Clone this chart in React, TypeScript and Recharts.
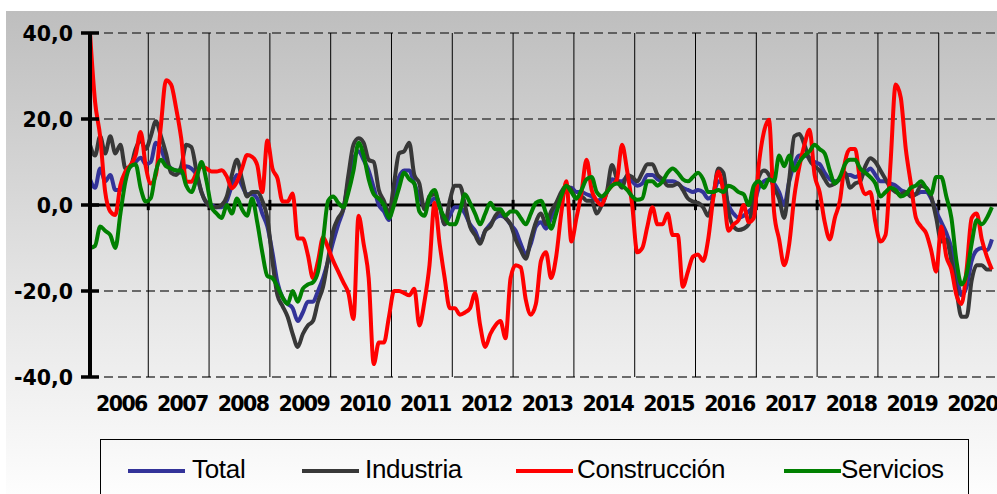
import React from "react";
import {
  LineChart,
  Line,
  XAxis,
  YAxis,
  CartesianGrid,
  ReferenceLine,
} from "recharts";

// monthly series, Jan 2006 .. Nov 2020
const START_YEAR = 2006;

const years = [
  2006, 2007, 2008, 2009, 2010, 2011, 2012, 2013, 2014, 2015, 2016, 2017,
  2018, 2019, 2020,
];

const yTicks = [-40, -20, 0, 20, 40];

const total = [
  6, 4, 8.5, 5.5, 7, 3.5, 3.5, 7, 9, 10, 11, 9.5,
  10, 14.5, 13, 10, 8.5, 8, 7.5, 9, 8.5, 7, 3, 0.5,
  0, -0.5, -0.5, 1, 4.5, 7, 4.5, 2.5, 2.5, 1.5, -2, -5,
  -11, -18, -21.5, -23, -24, -27, -25, -22.5, -22.5, -20, -17, -13,
  -8.5, -4.5, -1, 5.5, 10.5, 12.5, 10.5, 8, 4, 0, -1.5, -3.5,
  2.5, 6.5, 8, 8, 5, 2, -0.5, 0.5, 1.5, 0, -4.5, -2.5,
  -0.5, -0.5, -2, -4.5, -6, -8.5, -6, -4.5, -3, -2.5, -3, -4.5,
  -6, -9, -11.5, -9, -5, -4, -5.5, -3, 0, 2.5, 4, 4,
  3, 3, 2.5, 2, 1, 1.5, 3, 6, 5.5, 5.5, 6.5, 5.5,
  4.5, 5, 7, 7, 6, 5.5, 5.5, 5.5, 5, 4, 3.5, 3,
  3.5, 3, 1.5, 2.5, 5.5, 4.5, 0, -2, -3, -2.5, -1.5, 0,
  4, 5.5, 6, 5, 3, 0, 5.5, 9.5, 11.5, 11.5, 11, 10,
  9.5, 7.5, 6, 5.5, 6, 7, 7, 6.5, 7, 7.5, 8.5, 7,
  5.5, 5.5, 5, 4.5, 3.5, 3, 2.5, 2.5, 3, 3, 1.5, -1.5,
  -4, -6.5, -10, -16, -21, -19, -13, -10.5, -10, -10.5, -8,
];

const industria = [
  14, 11.5, 16, 12, 16, 12, 14, 8.5, 9, 13, 15, 13,
  16, 19.5, 16, 12, 7.5, 7, 9, 14, 13.5, 8, 3, 0.5,
  -0.5, -0.5, 0, 2, 7, 10.5, 6, 2, 3, 3, 1, -3,
  -13, -21, -23.5, -26, -30, -33, -30, -28, -27, -22.5, -19, -12.5,
  -6, -3, -1, 7, 14, 15.5, 14.5, 10.5, 10, 3.5, 1, -2,
  5, 12, 12.5, 14.5, 7, 5, -1, 2, 2.5, 0, -4.5, 1,
  4.5, 4.5, 0, -5, -7, -9, -6, -5, -2.5, -1.5, -3, -4.5,
  -8, -10.5, -12.5, -8, -4, -2, -4.5, -1.5, 0.5, 3, 4.5, 3.5,
  1.5, 2, 1, 1, -2, 0, 3, 9.3, 6, 4, 7, 6.5,
  5.5, 7.5, 9.5, 9.5, 7, 6, 4.5, 4.5, 5, 3.5, 1.5, 0.8,
  0.5, -0.5, -2.5, 2, 8.5, 7.5, -1.5, -5, -5.8, -5.5, -4.5, 1.5,
  6.5, 8, 7, 4, 1.5, -3, 6, 16, 16.5, 14, 10.5, 9,
  8, 6, 4.5, 5, 6, 7.5, 4, 5, 5.5, 9, 10.9, 10,
  8, 6, 4, 3, 2.5, 3, 2, 2.5, 4.5, 4, 2, -3,
  -8.5, -8, -13, -20, -26, -26, -17.5, -14, -14, -15, -15,
];

const construccion = [
  40, 24, 16, 3, -1.5, -2.3, 4.6, 7.8, 9.3, 11.6, 17, 9,
  5, 7, 18.6, 29, 28, 22.5, 15.5, 5.4, 5.4, 7.4, 8.9, 8.5,
  7.8, 7.8, 8.1, 6.6, 3.9, 5.4, 8.5, 11.6, 11.2, 9.3, 3, 15,
  8.5, 6.2, 0.8, 0.8, 2.7, -7.8, -7.8, -11.6, -17, -13, -7.5, -10,
  -13, -15.5, -18, -20.5, -26.5, -2.5, -9, -17, -37, -32, -32, -26,
  -20, -20, -20.5, -21, -19.5, -28, -22.5, -14, 0.5, -9, -17, -24,
  -24, -25.5, -25, -24, -20.5, -28, -33, -30, -28, -27, -31, -17,
  -14, -14.5, -22, -25.5, -23, -13, -11, -17, -12, -2, 5.5, -8.5,
  -3, 3, 10.5, 3.5, 1, 0, 3, 4.5, 6, 14, 8, 0,
  -11, -10, -5, -0.5, -4.5, -4.5, -2, -7, -7, -19, -15.5, -12,
  -11.5, -13, -8, 1.5, 7.8, 3, -6, -4.5, -3.5, 0, -4, -3,
  9.5, 17, 19.8, -1.5, -8, -14, -9, 2, 9, 14, 17.5, 7,
  3, -4, -8, -3, 1, 10, 13, 13, 5.5, 2.5, 3, -4,
  -8.5, -7, 10, 28, 25, 13, 5, -3, -5, -6.5, -10.5, -15.5,
  -5, -12, -15, -21, -23, -15, -3, -2, -8, -12, -15,
];

const servicios = [
  -10, -9.5, -5, -6, -7, -10, -2, 5.5, 9, 9.5, 3.9, 0.8,
  1.6, 7.8, 10.5, 9, 8.5, 8, 8, 4.5, 3, 6, 10, 5.5,
  -0.5, -2, -3, 0, -2, 1.5, -1, -2.5, 1.5, -4, -11, -16.5,
  -17, -19, -21.5, -23, -20, -22.5, -19.5, -18.5, -18, -15.5, -8, 1,
  2, 0.5, -0.5, 3, 8, 14.5, 11.5, 6, 2.5, 1.5, 0, -3,
  0, 4, 7.5, 6, 5, -1.5, -2.5, 2, 3.5, -0.5, -3, -4.5,
  -4.5, -1.5, 2.5, 0.5, -2, -4.5, -2, 0.5, -1, -1, -2.5, -1.5,
  -1.5, -3, -4.5, -2, 0.5, 1, -2, -5.5, -2, 2, 4.5, 3,
  1.5, 3.5, 6, 6.5, 3, 2, 3, 4.5, 5, 4.5, 3.5, 2,
  1.2, 1.5, 5.5, 5.5, 4.5, 5.5, 7.5, 8.5, 7.5, 6, 5.5, 6.5,
  7.5, 6, 3, 3, 3.5, 3, 4.5, 4, 3, 2.5, 0, 4.5,
  5.5, 4, 6, 5.5, 11.5, 9, 11.5, 8, 10, 11.5, 12.5, 14,
  13, 12, 8, 5, 6.5, 9.5, 10.5, 10.5, 8.5, 7.5, 6.5, 5,
  2, 3, 4, 3.5, 2, 2.5, 4, 4.5, 5.5, 4, 2.5, 6.5,
  6.5, 2, -3, -13, -18.5, -16, -9, -3.5, -4.5, -3, -0.5,
];

const SERIES = [
  { key: "total", name: "Total", color: "#333399", values: total, lx: 128, tx: 192 },
  { key: "industria", name: "Industria", color: "#383838", values: industria, lx: 302, tx: 365 },
  { key: "construccion", name: "Construcción", color: "#ff0000", values: construccion, lx: 516, tx: 577 },
  { key: "servicios", name: "Servicios", color: "#008000", values: servicios, lx: 784, tx: 841 },
];

const rows = total.map((_, i) => {
  const row: Record<string, number> = { i };
  SERIES.forEach((s) => {
    row[s.key] = s.values[i];
  });
  return row;
});

const yearTicks = years.map((_, k) => k * 12 + 6.2);
const yearEdges = years.slice(1).map((_, k) => (k + 1) * 12 - 0.5);

const fmt = (v: number) => v.toFixed(1).replace(".", ",");

function YTick(props: any) {
  const { x, y, payload } = props;
  return (
    <g>
      <line x1={x - 9} x2={x + 9} y1={y} y2={y} stroke="#000" strokeWidth={3.5} />
      <text
        x={x - 17}
        y={y + 7.5}
        textAnchor="end"
        fontFamily="DejaVu Sans"
        fontWeight="bold"
        fontSize={20.5}
        fill="#000"
      >
        {fmt(payload.value)}
      </text>
    </g>
  );
}

function XTick(props: any) {
  const { x, y, payload } = props;
  return (
    <text
      x={x}
      y={y + 34}
      textAnchor="middle"
      fontFamily="DejaVu Sans"
      fontWeight="bold"
      fontSize={20.5}
      letterSpacing={-1.6}
      fill="#000"
    >
      {START_YEAR + Math.floor(payload.value / 12)}
    </text>
  );
}

export default function App() {
  return (
    <div
      style={{
        position: "absolute",
        left: 0,
        top: 0,
        width: 997,
        height: 494,
        overflow: "hidden",
        background: "#fff",
      }}
    >
      <div
        style={{
          position: "absolute",
          left: 6,
          top: 11,
          width: 991,
          height: 483,
          background: "linear-gradient(to bottom, #bebebe 0%, #e6e6e6 60%, #fdfdfd 100%)",
        }}
      />

      <div style={{ position: "absolute", left: 0, top: 0 }}>
        <LineChart
          width={997}
          height={494}
          data={rows}
          margin={{ top: 33, right: 0, bottom: 77, left: 0 }}
        >
          <CartesianGrid
            vertical={false}
            stroke="#404040"
            strokeWidth={1.5}
            strokeDasharray="9 5"
          />

          <XAxis
            dataKey="i"
            type="number"
            domain={[0, 179]}
            ticks={yearTicks}
            interval={0}
            height={40}
            axisLine={false}
            tickLine={false}
            tickSize={0}
            tickMargin={0}
            tick={<XTick />}
          />

          <YAxis
            domain={[-40, 40]}
            ticks={yTicks}
            interval={0}
            width={90}
            axisLine={{ stroke: "#000", strokeWidth: 4 }}
            tickLine={false}
            tickSize={0}
            tickMargin={0}
            tick={<YTick />}
          />

          {yearEdges.map((e) => (
            <ReferenceLine key={"v" + e} x={e} stroke="#000" strokeWidth={1} />
          ))}

          <ReferenceLine y={0} stroke="#000" strokeWidth={3} />

          {yearEdges.map((e) => (
            <ReferenceLine
              key={"t" + e}
              segment={[
                { x: e, y: -1.2 },
                { x: e, y: 1.2 },
              ]}
              stroke="#000"
              strokeWidth={3}
            />
          ))}

          {SERIES.map((s) => (
            <Line
              key={s.key}
              dataKey={s.key}
              name={s.name}
              type="monotone"
              stroke={s.color}
              strokeWidth={4}
              strokeLinejoin="round"
              dot={false}
              activeDot={false}
              isAnimationActive={false}
            />
          ))}
        </LineChart>
      </div>

      {/* legend */}
      <div
        style={{
          position: "absolute",
          left: 100,
          top: 439,
          width: 869,
          height: 70,
          border: "1px solid #000",
          boxSizing: "border-box",
        }}
      />
      {SERIES.map((s) => (
        <React.Fragment key={"lg" + s.key}>
          <div
            style={{
              position: "absolute",
              left: s.lx,
              top: 469,
              width: 57,
              height: 4,
              background: s.color,
            }}
          />
          <div
            style={{
              position: "absolute",
              left: s.tx,
              top: 454,
              fontFamily: "Liberation Sans",
              fontSize: 26,
              lineHeight: "30px",
              letterSpacing: -0.3,
              color: "#000",
              whiteSpace: "nowrap",
            }}
          >
            {s.name}
          </div>
        </React.Fragment>
      ))}
    </div>
  );
}
